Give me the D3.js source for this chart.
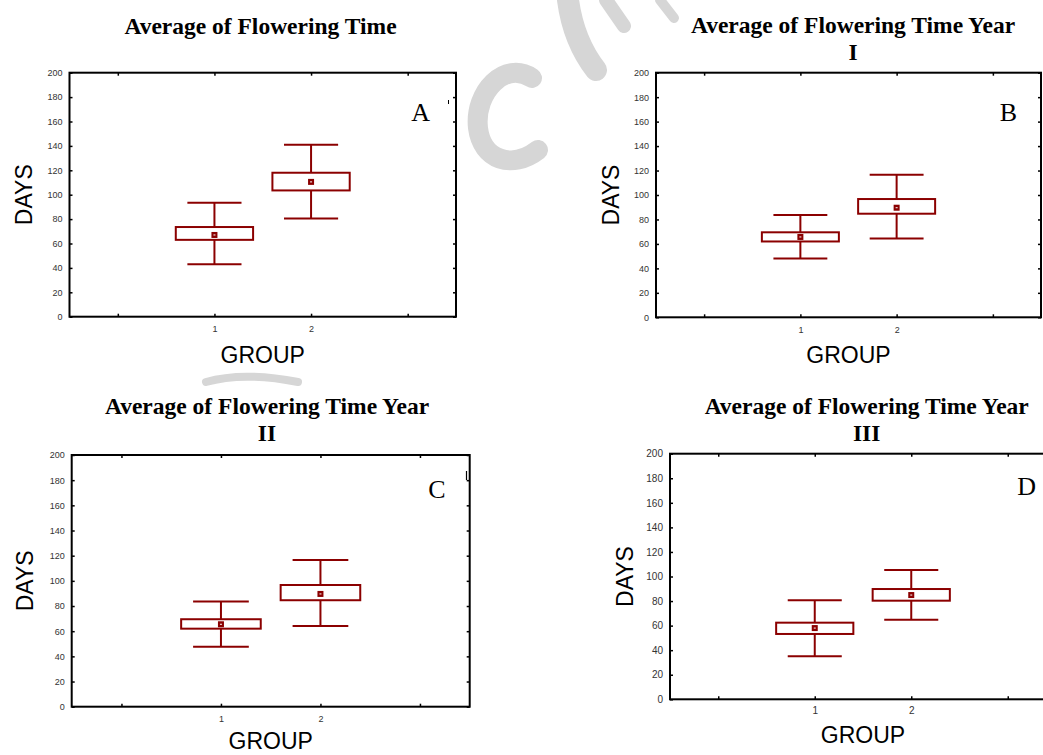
<!DOCTYPE html>
<html><head><meta charset="utf-8">
<script src="https://cdn.jsdelivr.net/npm/d3@7"></script>
<style>body{margin:0;background:#fff}svg{display:block}</style>
</head><body><svg id="c" width="1043" height="755"></svg>
<script>
// ---------- data ----------
const groups = [1, 2];
const yTickValues = [0, 20, 40, 60, 80, 100, 120, 140, 160, 180, 200];
const xTickValues = [0, 1, 2, 3];
const xTickLabels = ["", "1", "2", ""];

const titles = ["Average of Flowering Time", "Average of Flowering Time Year",
                "Average of Flowering Time Year", "Average of Flowering Time Year"];
const titleLine2 = ["", "I", "II", "III"];
const panelLetters = ["A", "B", "C", "D"];

// Panel A
const minA = [43, 80.5], q1A = [63, 103.5], meanA = [67, 110.5], q3A = [73.5, 118], maxA = [93.5, 141];
// Panel B (Year I)
const minB = [48, 64.5], q1B = [62, 84.7], meanB = [65.7, 89.6], q3B = [69.5, 96.7], maxB = [83.6, 116.6];
// Panel C (Year II)
const minC = [47.7, 64.2], q1C = [62, 84.6], meanC = [65.5, 89.6], q3C = [69.5, 96.7], maxC = [83.5, 116.6];
// Panel D (Year III)
const minD = [35, 64.8], q1D = [53.2, 80.3], meanD = [58, 84.9], q3D = [62.4, 89.8], maxD = [80.6, 105.3];

const series = [
  {min: minA, q1: q1A, mean: meanA, q3: q3A, max: maxA},
  {min: minB, q1: q1B, mean: meanB, q3: q3B, max: maxB},
  {min: minC, q1: q1C, mean: meanC, q3: q3C, max: maxC},
  {min: minD, q1: q1D, mean: meanD, q3: q3D, max: maxD}
];

// ---------- layout ----------
const layout = [
  {x0: 69.5, x1: 456, y0: 72.7, y1: 316.7, tx: 260.5, ty: 34, daysX: 32, groupY: 363, xPad: 9, tf: 9, ldx: -26, ldy: 48},
  {x0: 656, x1: 1041, y0: 72.7, y1: 317.3, tx: 853, ty: 33.3, daysX: 619, groupY: 363, xPad: 9, tf: 9, ldx: -24, ldy: 48},
  {x0: 71.7, x1: 469.7, y0: 455, y1: 706.7, tx: 267, ty: 414, daysX: 33, groupY: 749, xPad: 9, tf: 9, ldx: -24, ldy: 43},
  {x0: 670, x1: 1056, y0: 453.7, y1: 699.3, tx: 866.7, ty: 414.3, daysX: 632.5, groupY: 743.3, xPad: 8, tf: 10, ldx: -20, ldy: 41}
];

const RED = "#8b0000";
const svg = d3.select("#c");
svg.append("rect").attr("width", 1043).attr("height", 755).attr("fill", "#fff");

// faint watermark strokes
const wm = svg.append("g").attr("fill", "none").attr("stroke", "#d6d6d6").attr("stroke-linecap", "round");
wm.append("path").attr("stroke-width", 20).attr("d", "M532,78 C505,60 474,92 478,128 C482,160 512,170 538,150");
wm.append("path").attr("stroke-width", 22).attr("d", "M568,0 C572,30 582,52 596,70");
wm.append("path").attr("stroke-width", 14).attr("d", "M606,0 L624,26");
wm.append("path").attr("stroke-width", 10).attr("d", "M660,0 L674,18");
wm.append("path").attr("stroke-width", 8).attr("d", "M206,382 C230,375 262,375 298,382");

series.forEach((s, p) => {
  const L = layout[p];
  const g = svg.append("g");
  const x = d3.scaleLinear().domain([-0.5, 3.5]).range([L.x0, L.x1]);
  const y = d3.scaleLinear().domain([0, 200]).range([L.y1, L.y0]);
  const unit = x(1) - x(0);

  // title
  const t = g.append("text").attr("x", L.tx).attr("y", L.ty).attr("text-anchor", "middle")
    .attr("font-family", "'Liberation Serif','Times New Roman',serif").attr("font-weight", "bold")
    .attr("font-size", 23.5).attr("fill", "#000");
  t.append("tspan").attr("x", L.tx).text(titles[p]);
  if (titleLine2[p]) t.append("tspan").attr("x", L.tx).attr("dy", 26.5).text(titleLine2[p]);

  // axes
  const styleAxis = sel => {
    sel.select(".domain").remove();
    sel.selectAll("line").attr("stroke", "#000").attr("stroke-width", 1.5);
    sel.selectAll("text").attr("font-family", "'Liberation Sans',Arial,sans-serif")
      .attr("font-size", L.tf).attr("fill", "#333");
  };
  g.append("g").attr("transform", `translate(${L.x0},0)`)
    .call(d3.axisLeft(y).tickValues(yTickValues).tickSizeInner(-3).tickSizeOuter(0).tickPadding(7))
    .call(styleAxis);
  g.append("g").attr("transform", `translate(${L.x1},0)`)
    .call(d3.axisRight(y).tickValues(yTickValues).tickSizeInner(-3).tickSizeOuter(0).tickFormat(""))
    .call(styleAxis);
  g.append("g").attr("transform", `translate(0,${L.y1})`)
    .call(d3.axisBottom(x).tickValues(xTickValues).tickSizeInner(-3).tickSizeOuter(0).tickPadding(L.xPad)
      .tickFormat((d, i) => xTickLabels[i]))
    .call(styleAxis);
  g.append("g").attr("transform", `translate(0,${L.y0})`)
    .call(d3.axisTop(x).tickValues(xTickValues).tickSizeInner(-3).tickSizeOuter(0).tickFormat(""))
    .call(styleAxis);

  // frame
  g.append("rect").attr("x", L.x0).attr("y", L.y0).attr("width", L.x1 - L.x0).attr("height", L.y1 - L.y0)
    .attr("fill", "none").attr("stroke", "#000").attr("stroke-width", 2);

  // axis titles
  g.append("text").attr("transform", `translate(${L.daysX},${(L.y0 + L.y1) / 2}) rotate(-90)`)
    .attr("text-anchor", "middle").attr("font-family", "'Liberation Sans',Arial,sans-serif")
    .attr("font-size", 23).attr("fill", "#000").text("DAYS");
  g.append("text").attr("x", (L.x0 + L.x1) / 2).attr("y", L.groupY).attr("text-anchor", "middle")
    .attr("font-family", "'Liberation Sans',Arial,sans-serif").attr("font-size", 23).attr("fill", "#000").text("GROUP");

  // panel letter
  g.append("text").attr("x", L.x1 + L.ldx).attr("y", L.y0 + L.ldy).attr("text-anchor", "end")
    .attr("font-family", "'Liberation Serif','Times New Roman',serif").attr("font-size", 26).attr("fill", "#000")
    .text(panelLetters[p]);

  // box plots
  groups.forEach((grp, i) => {
    const cx = x(grp);
    const bw = unit * 0.8, cw = unit * 0.56;
    g.append("line").attr("x1", cx).attr("x2", cx).attr("y1", y(s.min[i])).attr("y2", y(s.max[i]))
      .attr("stroke", RED).attr("stroke-width", 2);
    [s.min[i], s.max[i]].forEach(v => {
      g.append("line").attr("x1", cx - cw / 2).attr("x2", cx + cw / 2).attr("y1", y(v)).attr("y2", y(v))
        .attr("stroke", RED).attr("stroke-width", 2);
    });
    g.append("rect").attr("x", cx - bw / 2).attr("y", y(s.q3[i])).attr("width", bw)
      .attr("height", y(s.q1[i]) - y(s.q3[i])).attr("fill", "#fff").attr("stroke", RED).attr("stroke-width", 2);
    g.append("rect").attr("x", cx - 3).attr("y", y(s.mean[i]) - 3).attr("width", 6).attr("height", 6).attr("fill", RED);
    g.append("rect").attr("x", cx - 1).attr("y", y(s.mean[i]) - 0.5).attr("width", 2).attr("height", 1).attr("fill", "#fff");
  });
});

// small stray marks seen in the original scan
svg.append("line").attr("x1", 448.5).attr("x2", 448.5).attr("y1", 100).attr("y2", 104).attr("stroke", "#000").attr("stroke-width", 1);
svg.append("line").attr("x1", 466.5).attr("x2", 466.5).attr("y1", 471).attr("y2", 480).attr("stroke", "#000").attr("stroke-width", 1.2);
</script></body></html>
